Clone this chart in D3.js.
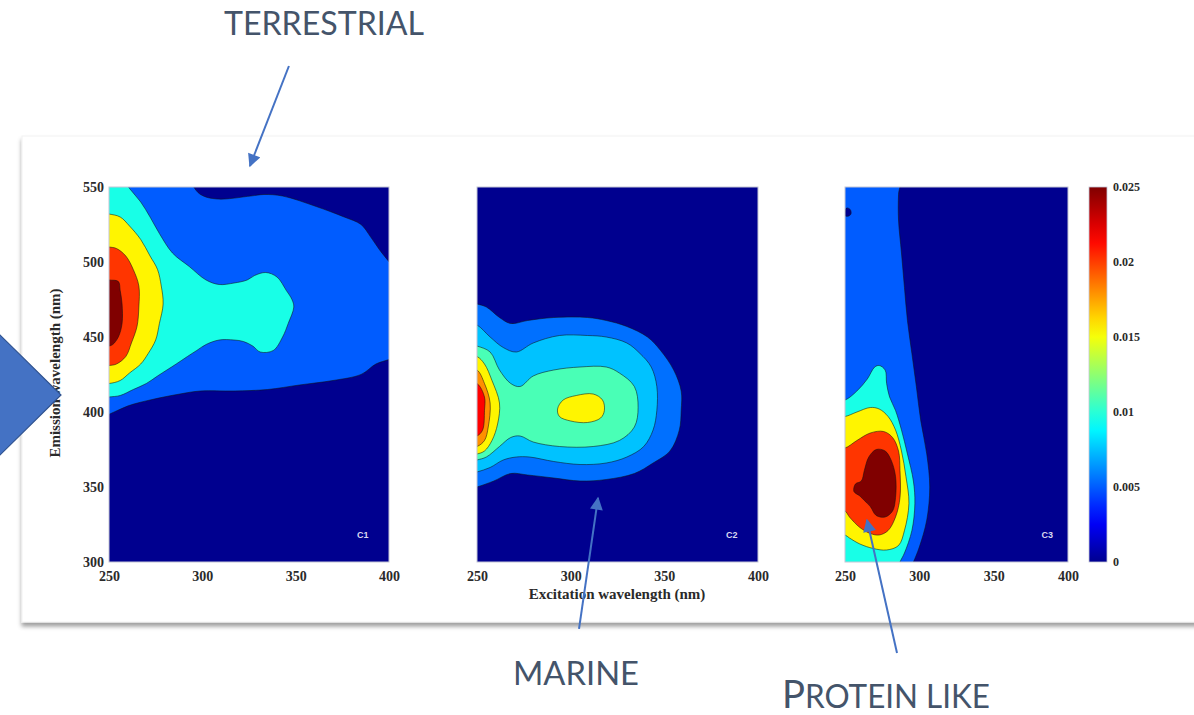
<!DOCTYPE html>
<html>
<head>
<meta charset="utf-8">
<script src="https://cdn.jsdelivr.net/npm/d3@7"></script>
<style>
  body { margin: 0; background: #fff; }
  svg { display: block; }
  .axis text, .cbar text { font-family: "Liberation Serif", "Times New Roman", serif; font-weight: bold; fill: #2a2a2a; }
  .axis-title { font-family: "Liberation Serif", "Times New Roman", serif; font-weight: bold; fill: #2a2a2a; }
  .note { font-family: Lato, "Open Sans", sans-serif; fill: #44546A; }
</style>
</head>
<body>
<svg id="chart" width="1194" height="715"></svg>
<script>
// ---- data ----
const xTicks = [250, 300, 350, 400];
const yTicks = [300, 350, 400, 450, 500, 550];
const colorTicks = [0, 0.005, 0.01, 0.015, 0.02, 0.025];
const componentNames = ['C1', 'C2', 'C3'];
const noteLabels = ['TERRESTRIAL', 'MARINE', 'PROTEIN LIKE'];

// filled contour bands: level value + outline in (excitation nm, emission nm)
const c1Contours = [
  { v: 0.005, pts: [[289,558],[299,545],[308,542],[326,544],[333,545],[343,544],[361,537],[376,530],[385,525],[390,517],[395,508],[402,497],[406,490],[406,438],[400,435],[393,432],[385,425],[370,421],[352,418],[335,415],[317,414],[299,414],[288,412],[272,408],[260,404],[251,399],[244,396],[244,558]] },
  { v: 0.0096, pts: [[244,558],[256,558],[261,549],[267,540],[272,530],[277,519],[284,506],[293,497],[302,488],[309,485],[317,486],[324,488],[328,491],[334,493],[340,490],[345,481],[348,475],[349,470],[346,459],[343,450],[338,441],[331,440],[327,444],[322,447],[317,448],[309,448],[302,445],[297,441],[292,437],[286,432],[281,428],[276,424],[270,419],[263,415],[256,411],[250,410],[244,409]] },
  { v: 0.0155, pts: [[244,533],[250,532],[256,530],[261,524],[267,515],[272,504],[276,495],[278,484],[279,472],[277,459],[275,448],[271,439],[267,432],[261,426],[256,421],[250,419],[244,419]] },
  { v: 0.0202, pts: [[244,511],[250,510],[254,509],[259,504],[263,495],[266,484],[266,470],[265,457],[262,446],[259,437],[254,432],[250,431],[244,431]] },
  { v: 0.025, pts: [[244,489],[250,488],[255,487],[256,481],[257,472],[257,459],[255,450],[252,445],[250,444],[244,444]] }
];

const c2Contours = [
  { v: 0.0055, pts: [[244,474],[250,472],[255,470],[262,463],[268,459],[277,461],[291,463],[309,463],[319,461],[330,457],[341,450],[348,441],[355,428],[359,414],[359,401],[358,388],[353,374],[344,366],[334,359],[319,355],[305,354],[291,356],[277,358],[268,359],[259,354],[250,350],[244,348]] },
  { v: 0.0075, pts: [[244,460],[250,458],[257,450],[264,443],[271,440],[280,446],[294,451],[309,451],[319,450],[330,446],[337,439],[343,430],[346,417],[346,401],[344,388],[339,377],[330,370],[319,366],[305,365],[291,367],[278,370],[271,370],[264,368],[257,363],[250,360],[244,358]] },
  { v: 0.0108, pts: [[244,446],[250,444],[257,440],[262,428],[268,419],[273,417],[280,424],[291,428],[305,430],[319,430],[326,426],[334,417],[336,403],[334,390],[326,381],[312,377],[294,377],[280,380],[273,384],[268,383],[262,377],[255,370],[250,368],[244,366]] },
  { v: 0.0155, pts: [[293,402],[296,408],[303,411],[312,412],[317,408],[318,401],[316,396],[309,393],[300,394],[294,397]] },
  { v: 0.0155, pts: [[244,438],[250,437],[254,432],[258,421],[262,406],[261,392],[258,381],[254,374],[250,372],[244,371]] },
  { v: 0.018, pts: [[244,429],[250,428],[254,419],[257,406],[256,390],[254,381],[250,377],[244,376]] },
  { v: 0.0215, pts: [[244,420],[250,419],[254,410],[254,401],[253,388],[250,384],[244,383]] }
];

const c3Contours = [
  { v: 0.005, pts: [[244,558],[287,558],[286,545],[286,528],[288,506],[290,483],[292,461],[295,439],[298,417],[301,394],[305,372],[307,350],[305,328],[300,310],[296,300],[293,294],[244,294]] },
  { v: 0, pts: [[251,536],[253.5,535],[254,532],[252,530.5],[250,531]] },
  { v: 0.0096, pts: [[244,408],[250,408],[258,414],[265,422],[270,430],[273,431],[277,428],[278,419],[280,410],[284,401],[288,388],[292,372],[296,354],[297,339],[295,321],[290,306],[287,300],[285,294],[244,294]] },
  { v: 0.0155, pts: [[244,397],[250,397],[258,400],[267,403],[273,402],[279,397],[284,388],[288,374],[291,357],[293,339],[290,321],[286,311],[278,308],[269,309],[260,312],[253,316],[250,318],[244,319]] },
  { v: 0.0202, pts: [[244,376],[250,376],[258,381],[267,386],[276,387],[282,383],[286,374],[287,361],[287,343],[284,330],[279,321],[273,318],[267,319],[260,323],[253,330],[250,334],[244,335]] },
  { v: 0.025, pts: [[266,370],[271,375],[277,374],[281,368],[284,357],[284,343],[282,334],[277,330],[271,331],[267,337],[263,341],[260,344],[256,347],[257,352],[261,354],[263,361]] }
];

// arrow tips in panel data coords (panel index, ex, em)
const noteTips = [[0, 325.5, 564], [1, 314.6, 342.7], [2, 264.8, 328]];

// ---- layout ----
const plotTop = 187, plotBottom = 562;
const panels = [
  { x0: 109, x1: 389, contours: c1Contours },
  { x0: 477, x1: 758, contours: c2Contours },
  { x0: 845, x1: 1068, contours: c3Contours }
];

// MATLAB-style jet colormap over the colorbar range
const jet = d3.scaleLinear()
  .domain([0, 0.11, 0.36, 0.61, 0.86, 1].map(t => t * 0.025))
  .range(['#00008f', '#0000ff', '#00ffff', '#ffff00', '#ff0000', '#800000'])
  .clamp(true);

const svg = d3.select('#chart');
const defs = svg.append('defs');

// card shadow
const shadow = defs.append('filter').attr('id', 'shadow')
  .attr('x', '-5%').attr('y', '-5%').attr('width', '110%').attr('height', '115%');
shadow.append('feDropShadow').attr('dx', 0).attr('dy', 4).attr('stdDeviation', 2)
  .attr('flood-color', '#000').attr('flood-opacity', 0.38);

svg.append('rect')
  .attr('x', 22).attr('y', 136).attr('width', 1200).attr('height', 486)
  .attr('fill', '#fff').attr('stroke', '#f2f2f2')
  .attr('filter', 'url(#shadow)');

const y = d3.scaleLinear().domain([300, 550]).range([plotBottom, plotTop]);

panels.forEach((p, i) => {
  const x = d3.scaleLinear().domain([250, 400]).range([p.x0, p.x1]);
  p.x = x;

  defs.append('clipPath').attr('id', 'clip' + i)
    .append('rect')
    .attr('x', p.x0).attr('y', plotTop)
    .attr('width', p.x1 - p.x0).attr('height', plotBottom - plotTop);

  const g = svg.append('g');
  g.append('rect')
    .attr('x', p.x0).attr('y', plotTop)
    .attr('width', p.x1 - p.x0).attr('height', plotBottom - plotTop)
    .attr('fill', jet(0));

  const line = d3.line()
    .x(d => x(d[0]))
    .y(d => y(d[1]))
    .curve(d3.curveCatmullRomClosed.alpha(0.5));

  g.append('g').attr('clip-path', `url(#clip${i})`)
    .selectAll('path')
    .data(p.contours)
    .enter().append('path')
    .attr('d', d => line(d.pts))
    .attr('fill', d => jet(d.v))
    .attr('stroke', '#111')
    .attr('stroke-opacity', 0.6)
    .attr('stroke-width', 0.9);

  g.append('rect')
    .attr('x', p.x0).attr('y', plotTop)
    .attr('width', p.x1 - p.x0).attr('height', plotBottom - plotTop)
    .attr('fill', 'none').attr('stroke', '#c4c6d6').attr('stroke-width', 1);

  // component tag
  g.append('text')
    .attr('x', x(386)).attr('y', y(316))
    .attr('text-anchor', 'middle')
    .style('font-family', 'Arial, "Liberation Sans", sans-serif')
    .style('font-weight', 'bold')
    .style('font-size', '9px')
    .attr('fill', '#d8d8f0')
    .text(componentNames[i]);

  // x-axis
  const xa = svg.append('g')
    .attr('class', 'axis')
    .attr('transform', `translate(0,${plotBottom})`)
    .call(d3.axisBottom(x).tickValues(xTicks).tickSize(0).tickPadding(9));
  xa.select('.domain').remove();
  xa.selectAll('text').style('font-size', '14px');

  if (i === 0) {
    const ya = svg.append('g')
      .attr('class', 'axis')
      .attr('transform', `translate(${p.x0},0)`)
      .call(d3.axisLeft(y).tickValues(yTicks).tickSize(0).tickPadding(5));
    ya.select('.domain').remove();
    ya.selectAll('text').style('font-size', '14px');
  }
});

// axis titles
svg.append('text')
  .attr('class', 'axis-title')
  .attr('x', 617).attr('y', 599)
  .attr('text-anchor', 'middle')
  .style('font-size', '15px')
  .text('Excitation wavelength (nm)');

svg.append('text')
  .attr('class', 'axis-title')
  .attr('transform', 'translate(60,373) rotate(-90)')
  .attr('text-anchor', 'middle')
  .style('font-size', '15px')
  .text('Emission wavelength (nm)');

// colorbar
const cbX = 1089, cbW = 18;
const cScale = d3.scaleLinear().domain([0, 0.025]).range([plotBottom, plotTop]);
const grad = defs.append('linearGradient').attr('id', 'jetGrad')
  .attr('x1', 0).attr('y1', 1).attr('x2', 0).attr('y2', 0);
d3.range(0, 1.0001, 0.05).forEach(t => {
  grad.append('stop').attr('offset', t).attr('stop-color', jet(t * 0.025));
});
svg.append('rect')
  .attr('x', cbX).attr('y', plotTop)
  .attr('width', cbW).attr('height', plotBottom - plotTop)
  .attr('fill', 'url(#jetGrad)')
  .attr('stroke', '#c4c6d6').attr('stroke-width', 0.8);

const ca = svg.append('g')
  .attr('class', 'cbar')
  .attr('transform', `translate(${cbX + cbW},0)`)
  .call(d3.axisRight(cScale).tickValues(colorTicks).tickSize(0).tickPadding(6)
    .tickFormat(d => d === 0 ? '0' : String(d)));
ca.select('.domain').remove();
ca.selectAll('text').style('font-size', '12px');

// ---- slide annotations ----
const blue = '#4472C4';

// chevron on the left edge
svg.append('polygon')
  .attr('points', '-2,333 61,395 -2,457')
  .attr('fill', blue).attr('stroke', '#2F528F').attr('stroke-width', 1.2);

defs.append('marker').attr('id', 'head')
  .attr('viewBox', '0 0 10 10').attr('refX', 9).attr('refY', 5)
  .attr('markerUnits', 'userSpaceOnUse')
  .attr('markerWidth', 14).attr('markerHeight', 13)
  .attr('orient', 'auto')
  .append('path').attr('d', 'M0,0 L10,5 L0,10 z').attr('fill', blue);

const tails = [[39, -100], [-19, 131], [30, 133]];
noteTips.forEach((t, i) => {
  const p = panels[t[0]];
  const tx = p.x(t[1]), ty = y(t[2]);
  svg.append('line')
    .attr('x1', tx + tails[i][0]).attr('y1', ty + tails[i][1])
    .attr('x2', tx).attr('y2', ty)
    .attr('stroke', blue).attr('stroke-width', 2)
    .attr('marker-end', 'url(#head)');
});

svg.append('text').attr('class', 'note')
  .attr('x', 224).attr('y', 35)
  .attr('textLength', 200).attr('lengthAdjust', 'spacingAndGlyphs')
  .style('font-size', '32px')
  .text(noteLabels[0]);

svg.append('text').attr('class', 'note')
  .attr('x', 513).attr('y', 685)
  .attr('textLength', 126).attr('lengthAdjust', 'spacingAndGlyphs')
  .style('font-size', '32px')
  .text(noteLabels[1]);

const prot = svg.append('text').attr('class', 'note')
  .attr('x', 782).attr('y', 708)
  .attr('textLength', 208).attr('lengthAdjust', 'spacingAndGlyphs');
prot.append('tspan').style('font-size', '39px').text(noteLabels[2].slice(0, 1));
prot.append('tspan').style('font-size', '32px').text(noteLabels[2].slice(1));
</script>
</body>
</html>
